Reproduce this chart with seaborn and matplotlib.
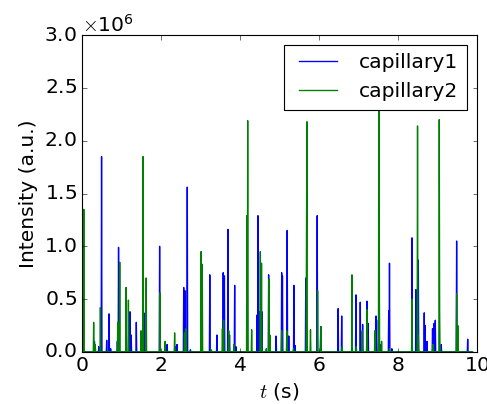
import numpy as np
import pandas as pd
import matplotlib
matplotlib.use("Agg")
import matplotlib.pyplot as plt
import seaborn as sns

# spike times (s) and peak heights (x1e6 a.u.)
cap1_t = [0.03, 0.32, 0.43, 0.50, 0.63, 0.69, 0.73, 0.90, 0.93, 1.22, 1.25, 1.38,
          1.57, 1.97, 2.16, 2.38, 2.41, 2.58, 2.61, 2.67, 2.75, 3.24, 3.42, 3.58,
          3.61, 3.70, 3.74, 3.87, 3.90, 4.19, 4.44, 4.46, 4.50, 4.56, 4.73, 4.92,
          5.06, 5.08, 5.20, 5.24, 5.37, 5.40, 5.67, 5.96, 6.05, 6.49, 6.58, 6.94,
          7.05, 7.11, 7.22, 7.25, 7.45, 7.51, 7.57, 7.77, 7.79, 7.85, 8.36, 8.46,
          8.52, 8.67, 8.69, 8.74, 8.88, 8.92, 8.95, 9.10, 9.49, 9.77]
cap1_h = [0.56, 0.10, 0.05, 1.85, 0.11, 0.36, 0.03, 0.10, 0.99, 0.38, 0.16, 0.28,
          0.37, 1.00, 0.07, 0.05, 0.07, 0.61, 0.58, 1.56, 0.02, 0.73, 0.16, 0.75,
          0.72, 1.16, 0.16, 0.63, 0.05, 0.70, 0.35, 1.29, 0.38, 0.38, 0.73, 0.15,
          0.75, 0.72, 1.15, 0.15, 0.63, 0.06, 0.70, 1.29, 0.24, 0.41, 0.34, 0.54,
          0.47, 0.26, 0.48, 0.27, 0.34, 0.30, 0.07, 0.39, 0.84, 0.03, 1.08, 0.59,
          0.87, 0.37, 0.25, 0.10, 0.22, 0.27, 0.30, 0.07, 1.05, 0.12]

cap2_t = [0.02, 0.05, 0.30, 0.34, 0.47, 0.91, 0.96, 1.12, 1.18, 1.50, 1.55, 1.63,
          1.98, 2.11, 2.35, 2.60, 2.64, 3.02, 3.05, 3.28, 3.56, 3.59, 3.72, 3.85,
          4.18, 4.20, 4.30, 4.52, 4.55, 4.67, 4.74, 4.76, 5.06, 5.19, 5.36, 5.69,
          5.70, 5.79, 5.97, 6.05, 6.59, 6.84, 6.95, 7.10, 7.22, 7.42, 7.52, 7.53,
          7.59, 7.79, 8.36, 8.50, 8.52, 8.89, 9.05, 9.06, 9.49, 9.52]
cap2_h = [0.30, 1.35, 0.28, 0.07, 0.42, 0.28, 0.85, 0.61, 0.49, 0.20, 1.85, 0.70,
          0.56, 0.10, 0.18, 0.18, 0.22, 0.95, 0.83, 0.02, 0.22, 0.30, 0.20, 0.07,
          1.29, 2.19, 0.21, 0.95, 0.84, 0.03, 0.69, 0.16, 0.20, 0.20, 0.03, 1.29,
          2.18, 0.21, 0.58, 0.24, 0.05, 0.73, 0.05, 0.20, 0.40, 0.20, 2.60, 1.30,
          0.10, 0.03, 0.50, 2.14, 0.15, 0.07, 2.20, 0.40, 0.55, 0.25]

dt = 0.01
t = np.round(np.arange(0, 9.9, dt), 2)


def trace(times, heights):
    y = np.zeros_like(t)
    for ti, hi in zip(times, heights):
        y[int(round(ti / dt))] = hi * 1e6
    return y


plt.style.use("classic")
plt.rcParams["font.size"] = 18
plt.rcParams["axes.formatter.use_mathtext"] = True

fig = plt.figure(figsize=(487 / 81, 404 / 81), dpi=81, facecolor="white")
ax = fig.add_axes([0.168, 0.129, 0.811, 0.784])

df1 = pd.DataFrame({"t": t, "I": trace(cap1_t, cap1_h)})
df2 = pd.DataFrame({"t": t, "I": trace(cap2_t, cap2_h)})
sns.lineplot(data=df1, x="t", y="I", color="b", label="capillary1",
             estimator=None, ax=ax, linewidth=1.2)
sns.lineplot(data=df2, x="t", y="I", color="g", label="capillary2",
             estimator=None, ax=ax, linewidth=1.2)

ax.set_xlim(0, 10)
ax.set_ylim(0, 3.0e6)
ax.set_yticks(np.arange(0, 3.01e6, 0.5e6))
ax.ticklabel_format(style="sci", axis="y", scilimits=(0, 0))
ax.set_xlabel("$t$ (s)")
ax.set_ylabel("Intensity (a.u.)", labelpad=6)
ax.legend(loc="upper right", fontsize=18, handlelength=2.5)

fig.savefig("out.png", dpi=81, facecolor="white")
